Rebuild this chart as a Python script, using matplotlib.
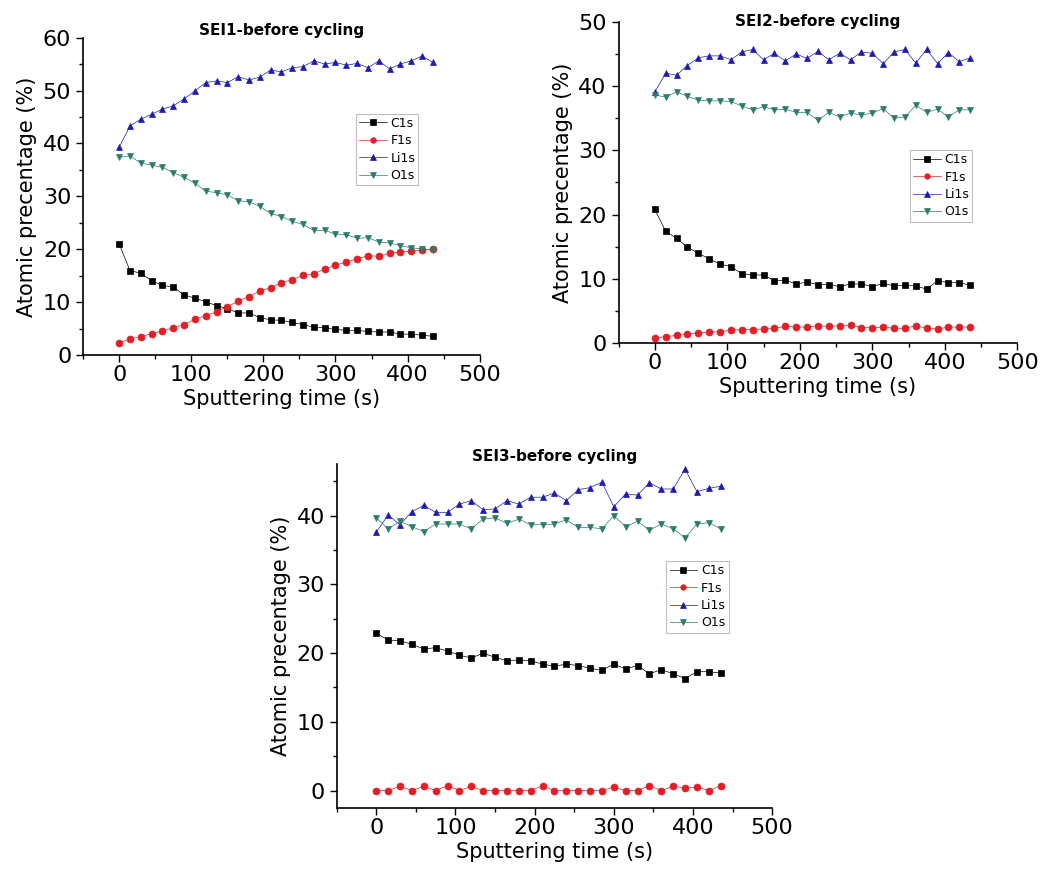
import numpy as np
import matplotlib.pyplot as plt
from matplotlib.ticker import MultipleLocator

# Tempo di sputtering (s), un punto ogni 15 s
t = np.arange(0, 436, 15)

# SEI1 - prima del ciclaggio
c1_sei1 = [21.0, 16.0, 15.5, 14.1, 13.2, 12.9, 11.4, 10.8, 10.1, 9.4, 8.8, 8.0, 8.0, 7.1, 6.7,
           6.6, 6.2, 5.8, 5.3, 5.2, 4.9, 4.7, 4.7, 4.5, 4.4, 4.4, 4.0, 4.0, 3.8, 3.6]
f1_sei1 = [2.3, 3.1, 3.5, 4.1, 4.6, 5.2, 5.8, 6.8, 7.5, 8.2, 9.2, 10.2, 11.1, 12.1, 12.8,
           13.7, 14.3, 15.1, 15.4, 16.3, 17.0, 17.6, 18.2, 18.8, 18.7, 19.3, 19.5, 19.7, 19.8, 20.1]
li1_sei1 = [39.3, 43.3, 44.6, 45.5, 46.5, 47.1, 48.4, 49.9, 51.5, 51.8, 51.5, 52.6, 52.0, 52.5, 53.9,
            53.5, 54.3, 54.5, 55.6, 55.0, 55.3, 54.8, 55.1, 54.3, 55.6, 54.1, 55.0, 55.6, 56.5, 55.3]
o1_sei1 = [37.4, 37.6, 36.3, 35.9, 35.5, 34.5, 33.6, 32.5, 31.0, 30.7, 30.3, 29.2, 29.0, 28.1, 26.8,
           26.2, 25.3, 24.7, 23.6, 23.6, 22.9, 22.8, 22.1, 22.2, 21.4, 21.2, 20.7, 20.3, 20.1, 19.8]

# SEI2 - prima del ciclaggio
c1_sei2 = [20.8, 17.4, 16.3, 14.9, 14.0, 13.1, 12.3, 11.9, 10.8, 10.6, 10.6, 9.7, 9.8, 9.2, 9.5,
           9.1, 9.1, 8.8, 9.2, 9.2, 8.8, 9.3, 8.9, 9.0, 8.9, 8.4, 9.7, 9.4, 9.4, 9.0]
f1_sei2 = [0.8, 1.0, 1.2, 1.4, 1.6, 1.7, 1.8, 2.0, 2.1, 2.1, 2.2, 2.3, 2.6, 2.5, 2.5,
           2.7, 2.6, 2.7, 2.8, 2.4, 2.4, 2.5, 2.3, 2.3, 2.7, 2.3, 2.2, 2.5, 2.5, 2.5]
li1_sei2 = [39.1, 42.0, 41.7, 43.2, 44.4, 44.7, 44.7, 44.1, 45.3, 45.7, 44.1, 45.1, 43.9, 45.0, 44.3,
            45.4, 44.1, 45.1, 44.1, 45.3, 45.1, 43.5, 45.3, 45.7, 43.6, 45.7, 43.5, 45.2, 43.8, 44.4]
o1_sei2 = [38.6, 38.3, 39.1, 38.4, 37.8, 37.7, 37.7, 37.6, 36.9, 36.3, 36.8, 36.3, 36.4, 35.9, 35.9,
           34.7, 35.9, 35.2, 35.8, 35.5, 35.8, 36.5, 35.0, 35.2, 37.0, 35.9, 36.4, 35.2, 36.3, 36.3]

# SEI3 - prima del ciclaggio
c1_sei3 = [22.9, 21.9, 21.8, 21.3, 20.6, 20.8, 20.3, 19.7, 19.3, 20.0, 19.4, 18.9, 19.0, 18.9, 18.4,
           18.1, 18.4, 18.2, 17.8, 17.5, 18.4, 17.7, 18.2, 17.0, 17.6, 17.0, 16.3, 17.3, 17.3, 17.1]
f1_sei3 = [0.0, 0.0, 0.6, 0.0, 0.6, 0.0, 0.7, 0.0, 0.6, 0.0, 0.0, 0.0, 0.0, 0.0, 0.7,
           0.0, 0.0, 0.0, 0.0, 0.0, 0.5, 0.0, 0.0, 0.7, 0.0, 0.6, 0.4, 0.5, 0.0, 0.7]
li1_sei3 = [37.6, 40.1, 38.7, 40.6, 41.5, 40.5, 40.5, 41.7, 42.2, 40.9, 41.0, 42.2, 41.7, 42.7, 42.7,
            43.3, 42.2, 43.8, 44.1, 44.9, 41.3, 43.2, 43.0, 44.8, 43.9, 43.9, 46.8, 43.5, 44.0, 44.3]
o1_sei3 = [39.7, 38.1, 39.2, 38.4, 37.7, 38.8, 38.8, 38.8, 38.1, 39.5, 39.7, 38.9, 39.5, 38.7, 38.7,
           38.8, 39.4, 38.3, 38.3, 38.1, 40.0, 38.4, 39.2, 37.9, 38.8, 38.1, 36.8, 38.8, 39.0, 38.1]

nomi = ['C1s', 'F1s', 'Li1s', 'O1s']
colori = ['black', '#e41e26', '#1c1cb4', '#2a7d6c']
marker = ['s', 'o', '^', 'v']

fig = plt.figure(figsize=(10.52, 8.73), dpi=100)

# posizione assi, limiti y, titolo, pad titolo, ancoraggio legenda
pannelli = [
    ([0.079, 0.593, 0.377, 0.364], (0, 60), 'SEI1-before cycling', 1.5, (0.672, 0.78),
     [c1_sei1, f1_sei1, li1_sei1, o1_sei1]),
    ([0.588, 0.607, 0.379, 0.368], (0, 50), 'SEI2-before cycling', -3, (0.715, 0.62),
     [c1_sei2, f1_sei2, li1_sei2, o1_sei2]),
    ([0.320, 0.074, 0.414, 0.395], (-2.6, 47.6), 'SEI3-before cycling', 1.5, (0.743, 0.735),
     [c1_sei3, f1_sei3, li1_sei3, o1_sei3]),
]

for pos, ylim, titolo, pad, leg_pos, serie in pannelli:
    ax = fig.add_axes(pos)
    for y, nome, col, m in zip(serie, nomi, colori, marker):
        ax.plot(t, y, color=col, marker=m, markersize=5, linewidth=0.5,
                markeredgewidth=0.5, label=nome)
    ax.set_xlim(-50, 500)
    ax.set_ylim(*ylim)
    ax.xaxis.set_major_locator(MultipleLocator(100))
    ax.xaxis.set_minor_locator(MultipleLocator(50))
    ax.yaxis.set_major_locator(MultipleLocator(10))
    ax.yaxis.set_minor_locator(MultipleLocator(5))
    ax.spines['top'].set_visible(False)
    ax.spines['right'].set_visible(False)
    ax.spines['left'].set_linewidth(1.2)
    ax.spines['bottom'].set_linewidth(1.2)
    ax.tick_params(which='major', direction='out', length=5, width=1, labelsize=16)
    ax.tick_params(which='minor', direction='out', length=3, width=1)
    ax.tick_params(axis='x', which='major', pad=2)
    ax.tick_params(axis='y', which='major', pad=3.5)
    ax.set_xlabel('Sputtering time (s)', fontsize=15, labelpad=3)
    ax.set_ylabel('Atomic precentage (%)', fontsize=15, labelpad=4)
    ax.set_title(titolo, fontsize=11, fontweight='bold', y=1.0, pad=pad)
    leg = ax.legend(loc='upper left', bbox_to_anchor=leg_pos, fontsize=9,
                    handlelength=2.2, handletextpad=0.3, borderpad=0.25,
                    labelspacing=0.35, fancybox=False, markerscale=0.8)
    leg.get_frame().set_edgecolor('#b0b0b0')
    leg.get_frame().set_linewidth(0.8)

plt.savefig('out.png', dpi=100)
